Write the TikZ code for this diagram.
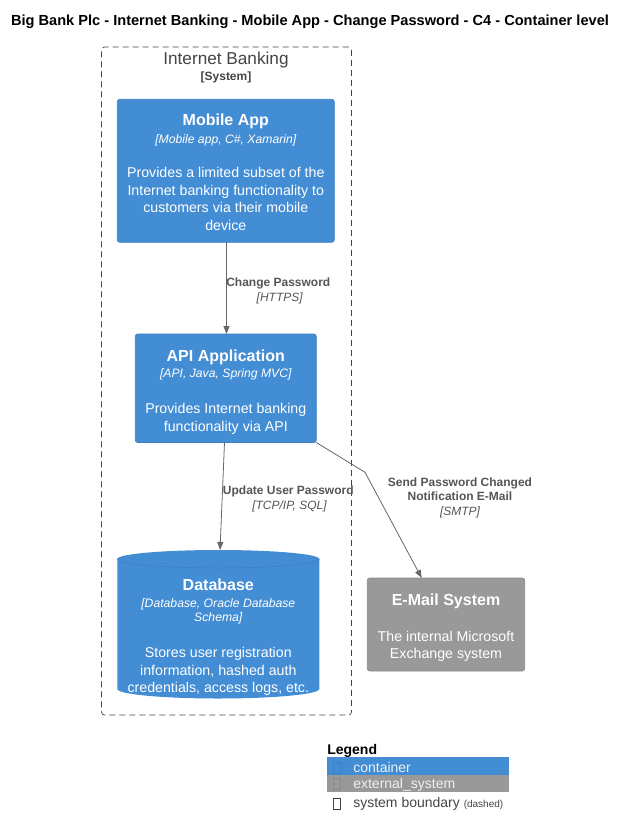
\documentclass[tikz,border=0pt]{standalone}
\usepackage{fontspec}
\setmainfont{Liberation Sans}
\usetikzlibrary{arrows.meta}

\definecolor{containerblue}{HTML}{438DD5}
\definecolor{containeredge}{HTML}{3C7FC0}
\definecolor{extgray}{HTML}{999999}
\definecolor{extedge}{HTML}{8A8A8A}
\definecolor{relgray}{HTML}{666666}
\definecolor{relText}{HTML}{555555}
\definecolor{boundgray}{HTML}{444444}

\newcommand{\fs}[1]{\fontsize{#1pt}{#1pt}\selectfont}

\begin{document}
\begin{tikzpicture}[x=1pt,y=-1pt,
  every node/.style={inner sep=0pt, outer sep=0pt},
  containerbox/.style={draw=containeredge, fill=containerblue, line width=0.7pt,
    rounded corners=2.5pt, anchor=north west},
  extbox/.style={draw=extedge, fill=extgray, line width=0.7pt,
    rounded corners=2.5pt, anchor=north west},
  boxtitle/.style={anchor=mid, yshift=-2pt, text=white, font=\fs{16}\bfseries},
  boxtech/.style={anchor=mid, yshift=-2pt, text=white, font=\fs{12.2}\itshape},
  boxdesc/.style={anchor=mid, yshift=-2pt, text=white, font=\fs{14.2}},
  rellabel/.style={anchor=mid, yshift=-1pt, text=relText, font=\fs{12}\bfseries},
  reltech/.style={anchor=mid, yshift=-1pt, text=relText, font=\fs{12}\itshape},
  rel/.style={draw=relgray, line width=0.8pt, -{Triangle[length=8pt,width=6pt]}},
  legendtext/.style={anchor=mid west, yshift=-2.5pt, font=\fs{14}},
  glyphbox/.style={draw, line width=0.5pt, minimum width=7pt, minimum height=10.5pt, anchor=center}
]
\useasboundingbox (0,0) rectangle (627,836);

% diagram title
\node[anchor=mid, yshift=-1.5pt, font=\fs{14.6}\bfseries] (title) at (310,21) {Big Bank Plc - Internet Banking - Mobile App - Change Password - C4 - Container level};

% system boundary
\node[draw=boundgray, dash pattern=on 6pt off 4pt, line width=0.7pt,
  rounded corners=3pt, anchor=north west, minimum width=250pt, minimum height=668pt] (boundary) at (101.5,47) {};
\node[anchor=mid, yshift=-2pt, text=boundgray, font=\fs{17.2}] (boundary-name) at (226,60) {Internet Banking};
\node[anchor=mid, yshift=-1.5pt, text=boundgray, font=\fs{12}\bfseries] (boundary-type) at (226,76.5) {[System]};

% Mobile App container
\node[containerbox, minimum width=217pt, minimum height=143pt] (mobile) at (117.3,99.3) {};
\node[boxtitle] (mobile-name) at (225.8,121.3) {Mobile App};
\node[boxtech] (mobile-tech) at (225.8,138.8) {[Mobile app, C\#, Xamarin]};
\node[boxdesc] (mobile-d1) at (225.8,173.3) {Provides a limited subset of the};
\node[boxdesc] (mobile-d2) at (225.8,190.8) {Internet banking functionality to};
\node[boxdesc] (mobile-d3) at (225.8,208.3) {customers via their mobile};
\node[boxdesc] (mobile-d4) at (225.8,225.8) {device};

% API Application container
\node[containerbox, minimum width=181pt, minimum height=108.5pt] (api) at (135.3,334) {};
\node[boxtitle] (api-name) at (225.8,357) {API Application};
\node[boxtech] (api-tech) at (225.8,373.3) {[API, Java, Spring MVC]};
\node[boxdesc] (api-d1) at (225.8,409.2) {Provides Internet banking};
\node[boxdesc] (api-d2) at (225.8,426.7) {functionality via API};

% Database container (cylinder)
\fill[containerblue] (117.3,559) -- (117.3,689) arc[start angle=180, end angle=360, x radius=101pt, y radius=9.5pt]
  -- (319.3,559) arc[start angle=0, end angle=180, x radius=101pt, y radius=9pt] -- cycle;
\draw[containeredge, line width=0.5pt] (117.3,559) arc[start angle=180, end angle=360, x radius=101pt, y radius=9pt];
\node[anchor=north west, minimum width=202pt, minimum height=148pt] (db) at (117.3,550) {};
\node[boxtitle] (db-name) at (218.3,585.5) {Database};
\node[boxtech] (db-tech1) at (218.3,603) {[Database, Oracle Database};
\node[boxtech] (db-tech2) at (218.3,617) {Schema]};
\node[boxdesc] (db-d1) at (218.3,653.3) {Stores user registration};
\node[boxdesc] (db-d2) at (218.3,670.8) {information, hashed auth};
\node[boxdesc] (db-d3) at (218.3,688.3) {credentials, access logs, etc.};

% E-Mail System (external)
\node[extbox, minimum width=157.4pt, minimum height=93pt] (email) at (367.3,578) {};
\node[boxtitle] (email-name) at (446,600.7) {E-Mail System};
\node[boxdesc] (email-d1) at (446,636.5) {The internal Microsoft};
\node[boxdesc] (email-d2) at (446,654.2) {Exchange system};

% relationships
\draw[rel] (mobile.south -| 226.5,0) -- (api.north -| 226.5,0);
\node[rellabel] (r1-label) at (278.3,283) {Change Password};
\node[reltech] (r1-tech) at (279.7,297.5) {[HTTPS]};

\coordinate (api-out) at (224.5,442.5);
\coordinate (db-in) at (220,550);
\draw[rel] (api-out) -- (db-in);
\node[rellabel] (r2-label) at (288.3,491) {Update User Password};
\node[reltech] (r2-tech) at (289.5,505.5) {[TCP/IP, SQL]};

\coordinate (bend) at (365,472.3);
\coordinate (email-in) at (421.7,578);
\draw[rel] (api.south east) -- (bend) -- (email-in);
\node[rellabel] (r3-label1) at (460,482.5) {Send Password Changed};
\node[rellabel] (r3-label2) at (460,497.3) {Notification E-Mail};
\node[reltech] (r3-tech) at (460,511.7) {[SMTP]};

% legend
\node[anchor=mid west, yshift=-2pt, font=\fs{14}\bfseries] (legend-title) at (327.3,750) {Legend};
\node[fill=containerblue, anchor=north west, minimum width=181.7pt, minimum height=18pt] (leg-container) at (327.3,757.3) {};
\node[fill=extgray, anchor=north west, minimum width=181.7pt, minimum height=16.5pt] (leg-external) at (327.3,775.3) {};
\node[glyphbox, draw=containeredge] (leg-glyph1) at (337,767.5) {};
\node[glyphbox, draw=extedge] (leg-glyph2) at (337,783.5) {};
\node[glyphbox, draw=boundgray] (leg-glyph3) at (337,803.7) {};
\node[legendtext, text=white!94!black] (leg-container-text) at (353.3,767.3) {container};
\node[legendtext, text=white!94!black] (leg-external-text) at (353.3,783) {external\_system};
\node[legendtext, text=boundgray] (leg-boundary-text) at (353.3,802.3) {system boundary {\fs{10}(dashed)}};
\end{tikzpicture}
\end{document}
